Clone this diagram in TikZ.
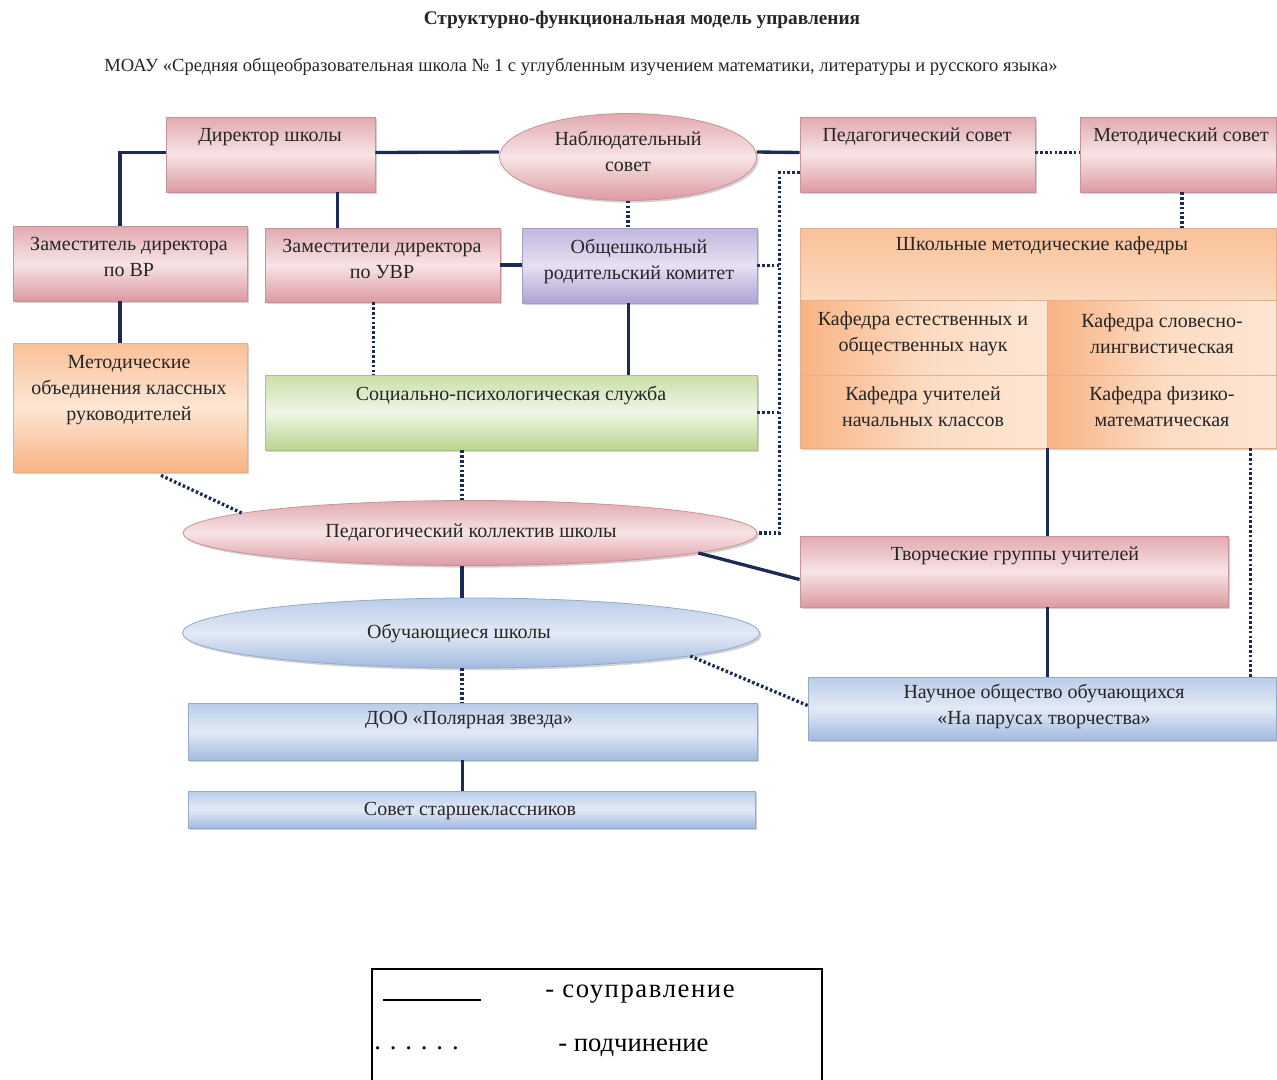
\documentclass[tikz,border=0pt]{standalone}
\usepackage{fontspec}
\setmainfont{Liberation Serif}
\usetikzlibrary{fit,calc,shadows,shapes.geometric}
\definecolor{navy}{HTML}{1C2B55}
\definecolor{txt}{HTML}{262626}
\definecolor{pinkA}{HTML}{E2AAB0}
\definecolor{pinkB}{HTML}{F7E4E5}
\definecolor{pinkC}{HTML}{DC9AA1}
\definecolor{pinkE}{HTML}{C99298}
\definecolor{orA}{HTML}{FAC198}
\definecolor{orB}{HTML}{FDE6D4}
\definecolor{orC}{HTML}{F8B383}
\definecolor{orE}{HTML}{E8B08A}
\definecolor{puA}{HTML}{C1B6DE}
\definecolor{puB}{HTML}{E6E1F2}
\definecolor{puC}{HTML}{B0A2D2}
\definecolor{puE}{HTML}{A89CC8}
\definecolor{grA}{HTML}{CADFA9}
\definecolor{grB}{HTML}{EFF6E6}
\definecolor{grC}{HTML}{B9D48E}
\definecolor{grE}{HTML}{A9C484}
\definecolor{blA}{HTML}{B9CCE8}
\definecolor{blB}{HTML}{E3EAF6}
\definecolor{blC}{HTML}{A1BADF}
\definecolor{blE}{HTML}{93AACB}
\tikzset{
  shd/.style={drop shadow={shadow xshift=1.6pt,shadow yshift=-1.6pt,opacity=0.32,fill=black!55}},
  basebox/.style={rectangle,inner sep=0pt,line width=0.6pt,shd},
  pinkbox/.style={basebox,draw=pinkE,top color=pinkA,bottom color=pinkC,middle color=pinkB},
  orbox/.style={basebox,draw=orE,top color=orA,bottom color=orC,middle color=orB},
  orcell/.style={rectangle,inner sep=0pt,draw=orE,line width=0.5pt,left color=orC,right color=orB,middle color=orB!70!orA},
  pubox/.style={basebox,draw=puE,top color=puA,bottom color=puC,middle color=puB},
  grbox/.style={basebox,draw=grE,top color=grA,bottom color=grC,middle color=grB},
  blbox/.style={basebox,draw=blE,top color=blA,bottom color=blC,middle color=blB},
  pinkell/.style={ellipse,inner sep=0pt,line width=0.6pt,shd,draw=pinkE,top color=pinkA,bottom color=pinkC,middle color=pinkB},
  blell/.style={ellipse,inner sep=0pt,line width=0.6pt,shd,draw=blE,top color=blA,bottom color=blC,middle color=blB},
  lbl/.style={font=\fontsize{15}{19.5}\selectfont,align=center,text=txt,inner sep=0pt},
  conn/.style={draw=navy,line width=2.5pt},
  subord/.style={draw=navy,line width=2.5pt,dash pattern=on 1.9pt off 1.7pt},
  legtxt/.style={font=\fontsize{20}{24}\selectfont,anchor=west,inner sep=0pt},
}
\begin{document}
\begin{tikzpicture}[x=0.75pt,y=-0.75pt]
\useasboundingbox (0,0) rectangle (1277,1079);
% titles
\node[font=\fontsize{14.5}{16}\selectfont\bfseries,text=txt,inner sep=0pt] (title) at (642,20) {Структурно-функциональная модель управления};
\node[font=\fontsize{13.9}{16}\selectfont,text=txt,inner sep=0pt] (subtitle) at (581,67) {МОАУ «Средняя общеобразовательная школа № 1 с углубленным изучением математики, литературы и русского языка»};

% boxes
\node[pinkbox,fit={(166,117)(375,192)}] (dir) {};
\node[pinkell,minimum width=192.75pt,minimum height=65.25pt] (nabl) at (628,157) {};
\node[pinkbox,fit={(800,117)(1035,192)}] (psov) {};
\node[pinkbox,fit={(1080,117)(1276,192)}] (msov) {};
\node[pinkbox,fit={(13,226)(247,301)}] (zvr) {};
\node[pinkbox,fit={(265,228)(500,302)}] (zuvr) {};
\node[pubox,fit={(522,228)(757,303)}] (rod) {};
\node[orbox,fit={(800,228)(1276,448)}] (kaf) {};
\node[orcell,fit={(800,300)(1047,375)}] (k1) {};
\node[orcell,fit={(1047,300)(1276,375)}] (k2) {};
\node[orcell,fit={(800,375)(1047,448)}] (k3) {};
\node[orcell,fit={(1047,375)(1276,448)}] (k4) {};
\node[orbox,fit={(13,343)(247,472)}] (mo) {};
\node[grbox,fit={(265,375)(757,450)}] (ss) {};
\node[pinkell,minimum width=430.5pt,minimum height=48.75pt] (pk) at (470,533) {};
\node[pinkbox,fit={(800,536)(1228,607)}] (tg) {};
\node[blell,minimum width=432.75pt,minimum height=52.5pt] (ob) at (471,633) {};
\node[blbox,fit={(808,677)(1276,740)}] (no) {};
\node[blbox,fit={(188,703)(757,760)}] (doo) {};
\node[blbox,fit={(188,791)(755,828)}] (sov) {};

% labels
\node[lbl] (dirT) at (270,137) {Директор школы};
\node[lbl] (nablT) at (628,151) {Наблюдательный\\совет};
\node[lbl] (psovT) at (917,137) {Педагогический совет};
\node[lbl] (msovT) at (1181,137) {Методический совет};
\node[lbl] (zvrT) at (129,257) {Заместитель директора\\по ВР};
\node[lbl] (zuvrT) at (382,259) {Заместители директора\\по УВР};
\node[lbl] (rodT) at (639,261) {Общешкольный\\родительский комитет};
\node[lbl] (kafT) at (1042,246) {Школьные методические кафедры};
\node[lbl] (k1T) at (923,334) {Кафедра естественных и\\общественных наук};
\node[lbl] (k2T) at (1162,334) {Кафедра словесно-\\лингвистическая};
\node[lbl] (k3T) at (923,407) {Кафедра учителей\\начальных классов};
\node[lbl] (k4T) at (1162,407) {Кафедра физико-\\математическая};
\node[lbl] (moT) at (129,390) {Методические\\объединения классных\\руководителей};
\node[lbl] (ssT) at (511,395) {Социально-психологическая служба};
\node[lbl] (pkT) at (471,533) {Педагогический коллектив школы};
\node[lbl] (tgT) at (1015,556) {Творческие группы учителей};
\node[lbl] (obT) at (459,633) {Обучающиеся школы};
\node[lbl] (noT) at (1044,706) {Научное общество обучающихся\\«На парусах творчества»};
\node[lbl] (dooT) at (469,720) {ДОО «Полярная звезда»};
\node[lbl] (sovT) at (470,811) {Совет старшеклассников};

% helper coordinates for connector columns
\coordinate (cDir) at ($(dir.south)+(67,0)$);
\coordinate (cRod) at ($(rod.south)+(-11,0)$);
\coordinate (cPk) at ($(pk.south)+(-8,0)$);
\coordinate (cDoo) at ($(doo.south)+(-10,0)$);
\coordinate (cMs) at ($(msov.south)+(4,0)$);
\coordinate (cZu) at ($(zuvr.south)+(-9,0)$);
\coordinate (cSs) at ($(ss.south)+(-49,0)$);
\coordinate (cKaf) at ($(kaf.south east)+(-26,0)$);
\coordinate (cOb) at ($(ob.south)+(-9,0)$);
\coordinate (cZv) at ($(zvr.north)+(-10,0)$);
\coordinate (cZvS) at ($(zvr.south)+(-10,0)$);

% solid connectors (соуправление)
\draw[conn] ($(dir.west)+(0,-2)$) -| (cZv);
\draw[conn] (cDir) -- (cDir |- zuvr.north);
\draw[conn] ($(dir.east)+(0,-2)$) -- ($(nabl.west)+(0,-5)$);
\draw[conn] ($(nabl.east)+(0,-5)$) -- ($(psov.west)+(0,-2)$);
\draw[conn] (zuvr.east) -- (zuvr.east -| rod.west);
\draw[conn] (cZvS) -- (cZvS |- mo.north);
\draw[conn] (cRod) -- (cRod |- ss.north);
\draw[conn] (cPk) -- (cPk |- ob.north);
\draw[conn] (pk.-5) -- ($(tg.west)+(0,8)$);
\draw[conn] (k3.south east) -- (k3.south east |- tg.north);
\draw[conn] (k3.south east |- tg.south) -- (k3.south east |- no.north);
\draw[conn] (cDoo) -- (cDoo |- sov.north);

% dotted connectors (подчинение)
\draw[subord] ($(psov.east)+(0,-2)$) -- ($(msov.west)+(0,-2)$);
\draw[subord] (cMs) -- (cMs |- kaf.north);
\draw[subord] (nabl.south) -- (nabl.south |- rod.north);
\draw[subord] (cZu) -- (cZu |- ss.north);
\coordinate (vtop) at ($(psov.west)+(-20,18)$);
\draw[subord] ($(psov.west)+(0,18)$) -- (vtop) -- (vtop |- pk.east) -- (pk.east);
\draw[subord] (rod.east) -- (vtop |- rod.east);
\draw[subord] (ss.east) -- (vtop |- ss.east);
\draw[subord] (cSs) -- (cSs |- pk.north);
\draw[subord] ($(mo.south)+(31,3)$) -- (pk.175);
\draw[subord] (cKaf) -- (cKaf |- no.north);
\draw[subord] (ob.-6) -- ($(no.west)+(0,-3)$);
\draw[subord] (cOb) -- (cOb |- doo.north);

% legend
\draw[line width=1.2pt] (372,1085) -- (372,969) -- (822,969) -- (822,1085);
\coordinate (legA) at (383,1000);
\coordinate (legB) at (481,1000);
\draw[line width=1.3pt] (legA) -- (legB);
\node[legtxt] (leg1) at (545,994) {\addfontfeature{LetterSpace=6}- соуправление};
\node[legtxt] (leg0) at (374,1048) {. . . . . .};
\node[legtxt] (leg2) at (558,1048) {- подчинение};
\end{tikzpicture}
\end{document}
